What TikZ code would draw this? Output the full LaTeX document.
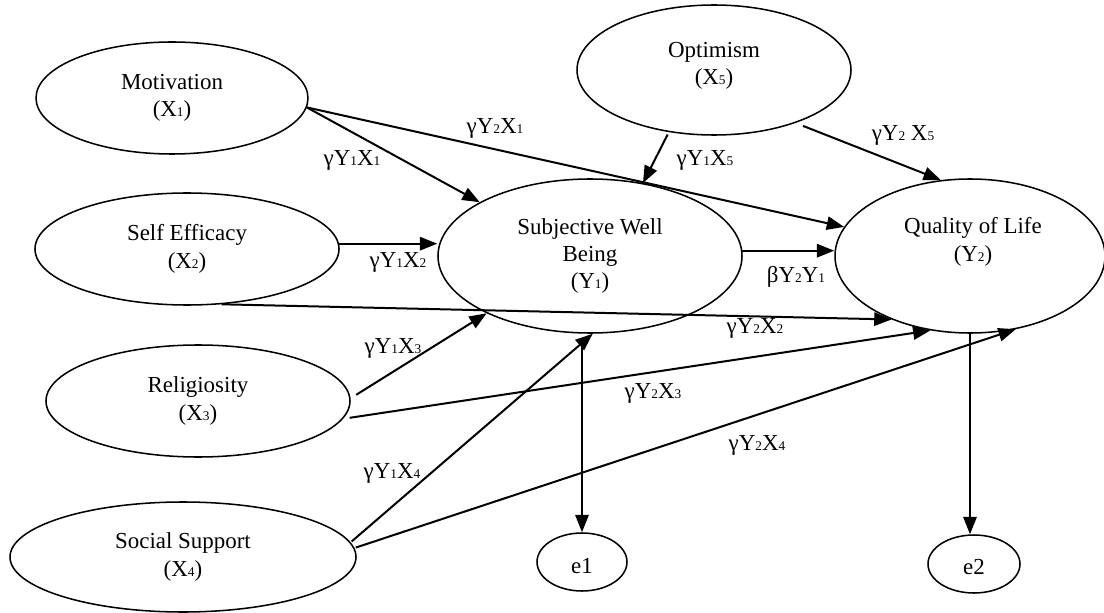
\documentclass[tikz,border=0pt]{standalone}
\usepackage{fontspec}
\setmainfont{Liberation Serif}
\usetikzlibrary{arrows.meta,shapes.geometric}
\newcommand{\ix}[1]{{\fontsize{10}{10}\selectfont #1}}
\begin{document}
\begin{tikzpicture}[x=0.75pt,y=-0.75pt,
  latent/.style={ellipse,draw,line width=1.15pt,inner sep=0pt,align=center,font=\fontsize{17.2}{20.6}\selectfont},
  txt/.style={inner sep=0pt,align=center,font=\fontsize{17.2}{20.6}\selectfont},
  arr/.style={line width=1.5pt,-{Triangle[length=13pt,width=10pt]}},
  coef/.style={inner sep=0pt,font=\fontsize{17.2}{20.6}\selectfont}]
\useasboundingbox (0,0) rectangle (1104,613);
% latent variables
\node[latent,minimum width=204pt,minimum height=84pt] (mot) at (172,98) {Motivation\\(X\ix{1})};
\node[latent,minimum width=228pt,minimum height=84pt] (se) at (187,249) {Self Efficacy\\(X\ix{2})};
\node[latent,minimum width=228pt,minimum height=84pt] (rel) at (198,401) {Religiosity\\(X\ix{3})};
\node[latent,minimum width=259.5pt,minimum height=82.5pt] (ss) at (183,557) {Social Support\\(X\ix{4})};
\node[latent,minimum width=205.5pt,minimum height=97.5pt] (opt) at (714,70) {};
\node[txt] (opttxt) at (714,66) {Optimism\\(X\ix{5})};
\node[latent,minimum width=228pt,minimum height=115.5pt] (swb) at (590,256) {Subjective Well\\Being\\(Y\ix{1})};
\node[latent,minimum width=202.5pt,minimum height=115.5pt] (qol) at (970,256) {};
\node[txt] (qoltxt) at (973,242) {Quality of Life\\(Y\ix{2})};
\node[latent,minimum width=67.5pt,minimum height=43.5pt] (e1) at (582,562) {};
\node[txt] (e1txt) at (582,566) {e1};
\node[latent,minimum width=69pt,minimum height=43.5pt] (e2) at (974,564) {};
\node[txt] (e2txt) at (974,567) {e2};
% paths
\draw[arr] (mot.-4) -- (swb.154);
\draw[arr] (mot.-4) -- (qol.167);
\draw[arr,shorten <=2pt] (opt.-126) -- (swb.54);
\draw[arr,shorten <=6pt] (opt.-33) -- (qol.111);
\draw[arr] (se.2) -- (se.2 -| swb.west);
\draw[arr] (swb.2) -- (swb.2 -| qol.west);
\draw[arr] (se.-58) -- (qol.-141);
\draw[arr,shorten <=5pt] (rel.1) -- (swb.-151);
\draw[arr,shorten <=5pt] (rel.-7) -- (qol.-118);
\draw[arr,shorten <=1pt] (ss.5) -- (swb.-88);
\draw[arr,shorten <=1pt] (ss.3) -- (qol.-58);
\draw[arr,shorten <=9pt] (e1.north |- swb.south) -- (e1.north);
\draw[arr] (qol.south) -- (qol.south |- e2.north);
% coefficients
\node[coef] (c1) at (495,128) {γY\ix{2}X\ix{1}};
\node[coef] (c2) at (352,160) {γY\ix{1}X\ix{1}};
\node[coef] (c3) at (705,160) {γY\ix{1}X\ix{5}};
\node[coef] (c4) at (903,135) {γY\ix{2} X\ix{5}};
\node[coef] (c5) at (398,262) {γY\ix{1}X\ix{2}};
\node[coef] (c6) at (796,277) {βY\ix{2}Y\ix{1}};
\node[coef] (c7) at (755,328) {γY\ix{2}X\ix{2}};
\node[coef] (c8) at (393,348) {γY\ix{1}X\ix{3}};
\node[coef] (c9) at (653,393) {γY\ix{2}X\ix{3}};
\node[coef] (c10) at (757,445) {γY\ix{2}X\ix{4}};
\node[coef] (c11) at (392,473) {γY\ix{1}X\ix{4}};
\end{tikzpicture}
\end{document}
